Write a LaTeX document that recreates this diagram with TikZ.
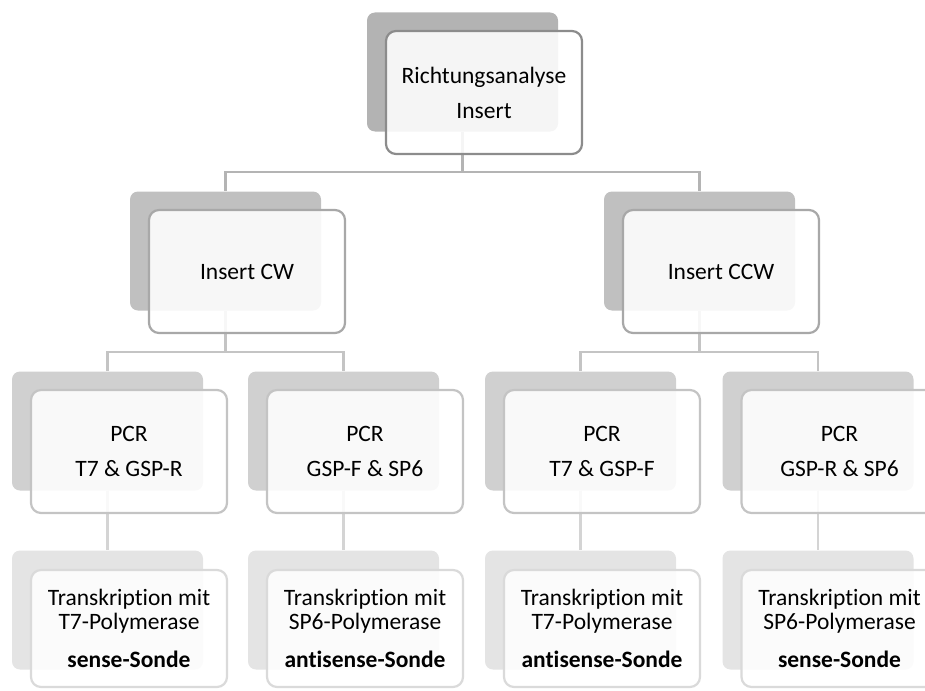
\documentclass[tikz,border=0pt]{standalone}
\usepackage{fontspec}
\setmainfont{Carlito}[Ligatures={NoCommon,NoRare,NoContextual}]
\definecolor{sA}{HTML}{B3B3B3}
\definecolor{sB}{HTML}{C0C0C0}
\definecolor{sC}{HTML}{D0D0D0}
\definecolor{sD}{HTML}{E4E4E4}
\definecolor{bA}{HTML}{8C8C8C}
\definecolor{bB}{HTML}{A8A8A8}
\definecolor{bC}{HTML}{C4C4C4}
\definecolor{bD}{HTML}{DADADA}
\definecolor{cA}{HTML}{B4B4B4}
\definecolor{cB}{HTML}{C4C4C4}
\definecolor{cC}{HTML}{D4D4D4}
\begin{document}
\begin{tikzpicture}[x=1pt,y=-1pt,
  shad/.style={draw=none, rounded corners=8pt, minimum width=191pt, minimum height=119pt, inner sep=0pt},
  front/.style={rounded corners=10pt, minimum width=196pt, minimum height=123pt, fill=white, fill opacity=0.88, text opacity=1, line width=2.2pt, align=center, inner sep=0pt, text=black, font=\fontsize{23.5}{35}\selectfont},
  frontlow/.style={front, minimum height=117pt, font=\fontsize{23.5}{24}\selectfont},
  conn/.style={line width=2.2pt}]
\useasboundingbox (0,0) rectangle (925,690);
\clip (0,0) rectangle (925,690);
% shadows
\node[shad, fill=sA] (s1) at (462.5,72) {};
\node[shad, fill=sB] (s2a) at (225.5,251) {};
\node[shad, fill=sB] (s2b) at (699.5,251) {};
\node[shad, fill=sC] (s3a) at (107.5,431) {};
\node[shad, fill=sC] (s3b) at (343.5,431) {};
\node[shad, fill=sC] (s3c) at (580.5,431) {};
\node[shad, fill=sC] (s3d) at (818,431) {};
\node[shad, fill=sD] (s4a) at (107.5,610) {};
\node[shad, fill=sD] (s4b) at (343.5,610) {};
\node[shad, fill=sD] (s4c) at (580.5,610) {};
\node[shad, fill=sD] (s4d) at (818,610) {};
% junctions
\coordinate (j1) at (462.5,172);
\coordinate (j2a) at (225.5,352);
\coordinate (j2b) at (699.5,352);
% connectors
\draw[conn, cA] (s1.south) -- (j1) -| (s2a.north);
\draw[conn, cA] (j1) -| (s2b.north);
\draw[conn, cB] (s2a.south) -- (j2a) -| (s3a.north);
\draw[conn, cB] (j2a) -| (s3b.north);
\draw[conn, cB] (s2b.south) -- (j2b) -| (s3c.north);
\draw[conn, cB] (j2b) -| (s3d.north);
\draw[conn, cC] (s3a.south) -- (s4a.north);
\draw[conn, cC] (s3b.south) -- (s4b.north);
\draw[conn, cC] (s3c.south) -- (s4c.north);
\draw[conn, cC] (s3d.south) -- (s4d.north);
% fronts
\node[front, draw=bA] (f1) at (484,92.5) {Richtungsanalyse\\Insert};
\node[front, draw=bB] (f2a) at (247,271.5) {Insert CW};
\node[front, draw=bB] (f2b) at (721,271.5) {Insert CCW};
\node[front, draw=bC] (f3a) at (129,451.5) {PCR\\T7 \& GSP-R};
\node[front, draw=bC] (f3b) at (365,451.5) {PCR\\GSP-F \& SP6};
\node[front, draw=bC] (f3c) at (602,451.5) {PCR\\T7 \& GSP-F};
\node[front, draw=bC] (f3d) at (839.5,451.5) {PCR\\GSP-R \& SP6};
\node[frontlow, draw=bD] (f4a) at (129,628.5) {Transkription mit\\T7-Polymerase\\[14pt]\textbf{sense-Sonde}};
\node[frontlow, draw=bD] (f4b) at (365,628.5) {Transkription mit\\SP6-Polymerase\\[14pt]\textbf{antisense-Sonde}};
\node[frontlow, draw=bD] (f4c) at (602,628.5) {Transkription mit\\T7-Polymerase\\[14pt]\textbf{antisense-Sonde}};
\node[frontlow, draw=bD] (f4d) at (839.5,628.5) {Transkription mit\\SP6-Polymerase\\[14pt]\textbf{sense-Sonde}};
\end{tikzpicture}
\end{document}
